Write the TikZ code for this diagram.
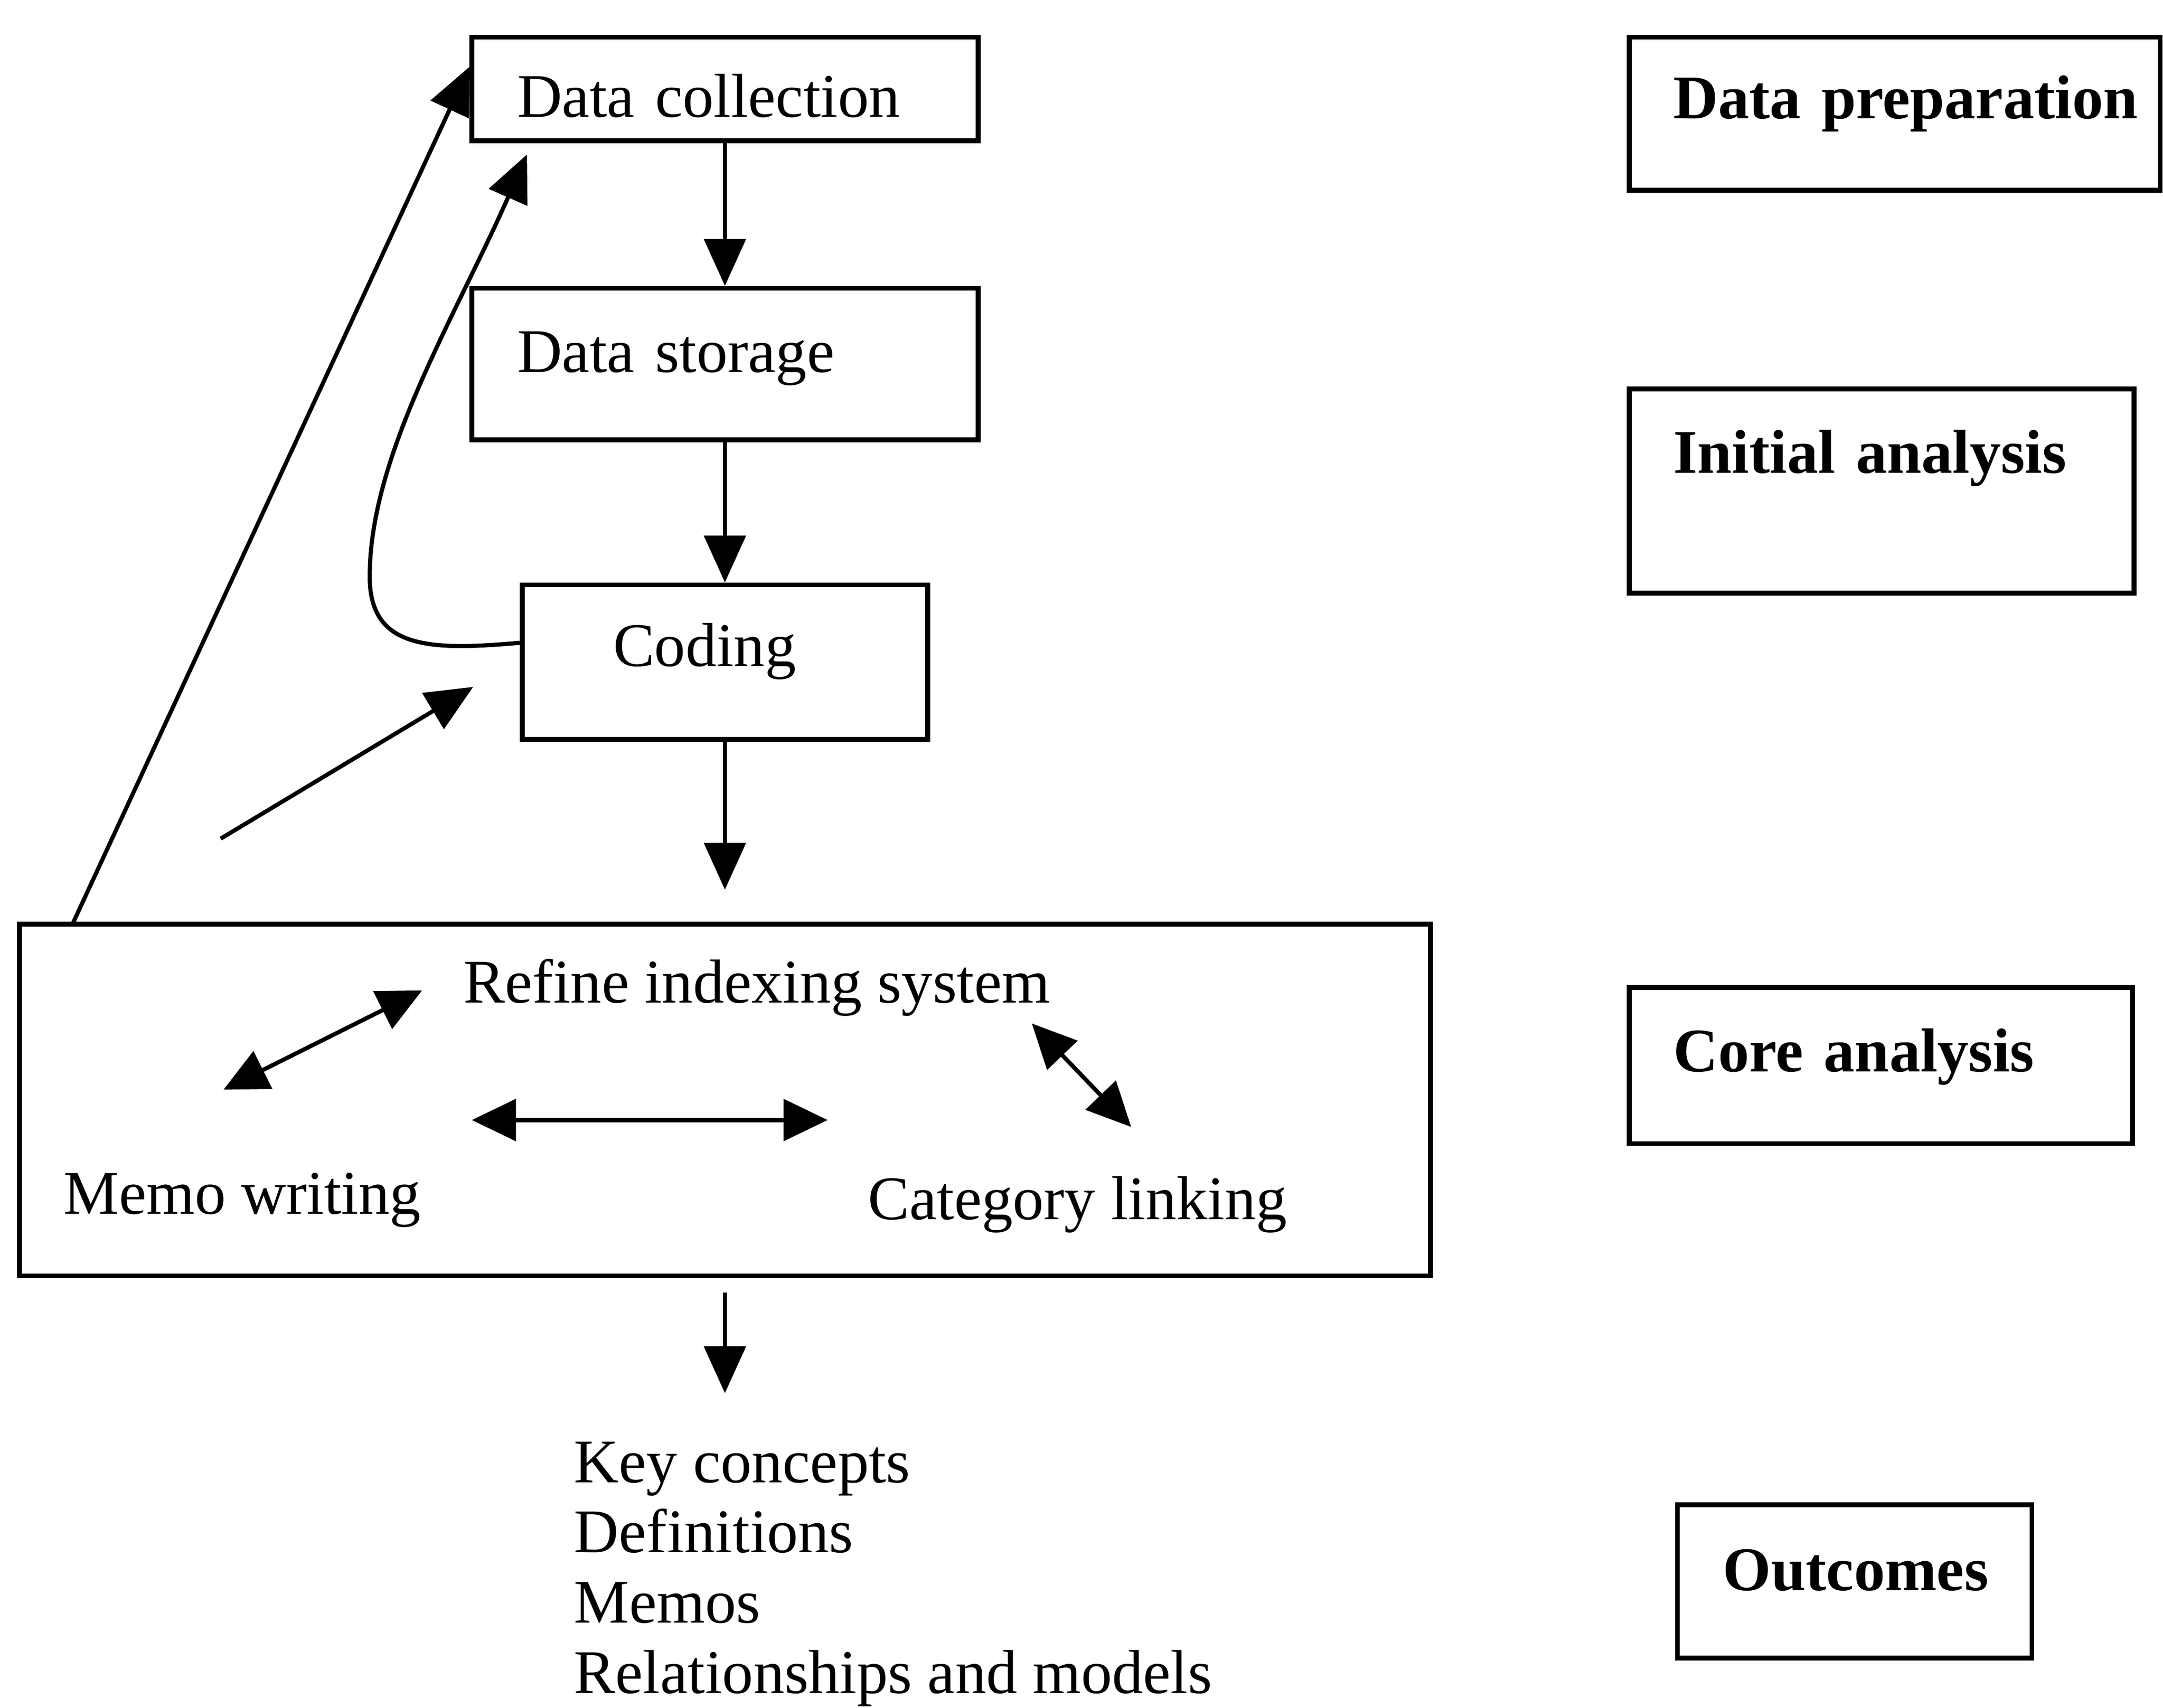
\documentclass[tikz,border=0pt]{standalone}
\usepackage{fontspec}
\setmainfont{Liberation Serif}
\usetikzlibrary{arrows.meta}
\setlength{\parindent}{0pt}

\begin{document}
\begin{tikzpicture}[x=1pt, y=-1pt,
    stage/.style={draw, line width=3.5pt, inner sep=0pt, align=left, text depth=0pt},
    tag/.style={stage, font=\bfseries},
    item/.style={inner sep=0pt, anchor=base west},
    flow/.style={line width=3pt, -{Triangle[length=34pt,width=30pt]}},
    link/.style={line width=3pt, {Triangle[length=32pt,width=30pt]}-{Triangle[length=32pt,width=30pt]}}]

  \fontsize{45}{51}\selectfont

  \useasboundingbox (0,0) rectangle (1568,1238);

  % \draw[help lines] (0,0) grid[step=100] (1568,1238);

  %% stages on the left
  \node[stage, text width=367pt, minimum height=75pt, text height=41pt] (dcoll) at (525.5,64.5) {\hspace*{33pt}Data collection};
  \node[stage, text width=367pt, minimum height=110pt, text height=12pt] (dstore) at (525.5,264) {\hspace*{33pt}Data storage};
  \node[stage, text width=294pt, minimum height=112pt, text height=6pt] (coding) at (525.5,480) {\hspace*{66pt}Coding};

  \node[draw, line width=3.5pt, inner sep=0pt, minimum width=1023pt, minimum height=255pt] (core) at (525.5,797.5) {};
  \node[item] (refine) at (336,727) {Refine indexing system};
  \node[item] (memo) at (46,880) {Memo writing};
  \node[item] (catlink) at (629,884) {Category linking};

  \node[inner sep=0pt, anchor=north west, align=left] (results) at (416,1045)
    {Key concepts\\Definitions\\Memos\\Relationships and models};

  %% phases on the right
  \node[tag, text width=385pt, minimum height=111pt, text height=7pt] (dprep) at (1373.5,82.5) {\hspace*{32pt}Data preparation};
  \node[tag, text width=366pt, minimum height=148pt, text height=10pt, text depth=36pt] (initial) at (1364,356) {\hspace*{32pt}Initial analysis};
  \node[tag, text width=365pt, minimum height=113pt, text height=9pt] (coreana) at (1363.5,772.5) {\hspace*{32pt}Core analysis};
  \node[tag, text width=257pt, minimum height=111pt, text height=13pt] (outc) at (1344.5,1146.5) {\hspace*{33pt}Outcomes};

  %% free ends
  \coordinate (codeend) at (525.5,645);
  \coordinate (outtop) at (525.5,937);
  \coordinate (outend) at (525.5,1010);
  \coordinate (backA) at (53,669);
  \coordinate (bend) at (268,418);
  \coordinate (backB) at (382,112);
  \coordinate (fromA) at (160,608);
  \coordinate (fromB) at (343,498);
  \coordinate (mw) at (162,790);
  \coordinate (ri) at (306,718);
  \coordinate (hl) at (342,812);
  \coordinate (hr) at (600,812);
  \coordinate (rc) at (748,742);
  \coordinate (cl) at (820,817);

  \draw[flow] (dcoll) -- (dstore); %% collection->storage
  \draw[flow] (dstore) -- (coding); %% storage->coding
  \draw[flow] (coding) -- (codeend); %% coding->core
  \draw[flow] (outtop) -- (outend); %% core->results

  \draw[flow] (backA) -- ([yshift=16pt]dcoll.west); %% core->collection
  \draw[flow] ([yshift=14pt]coding.west) .. controls (310,472) and (268,470) .. (bend)
    .. controls (268,330) and (330,230) .. (backB); %% coding->collection
  \draw[flow] (fromA) -- (fromB); % into coding

  \draw[link] (mw) -- (ri); %% memo<->refine
  \draw[link] (hl) -- (hr); %% memo<->category
  \draw[link] (rc) -- (cl); %% refine<->category
\end{tikzpicture}
\end{document}
